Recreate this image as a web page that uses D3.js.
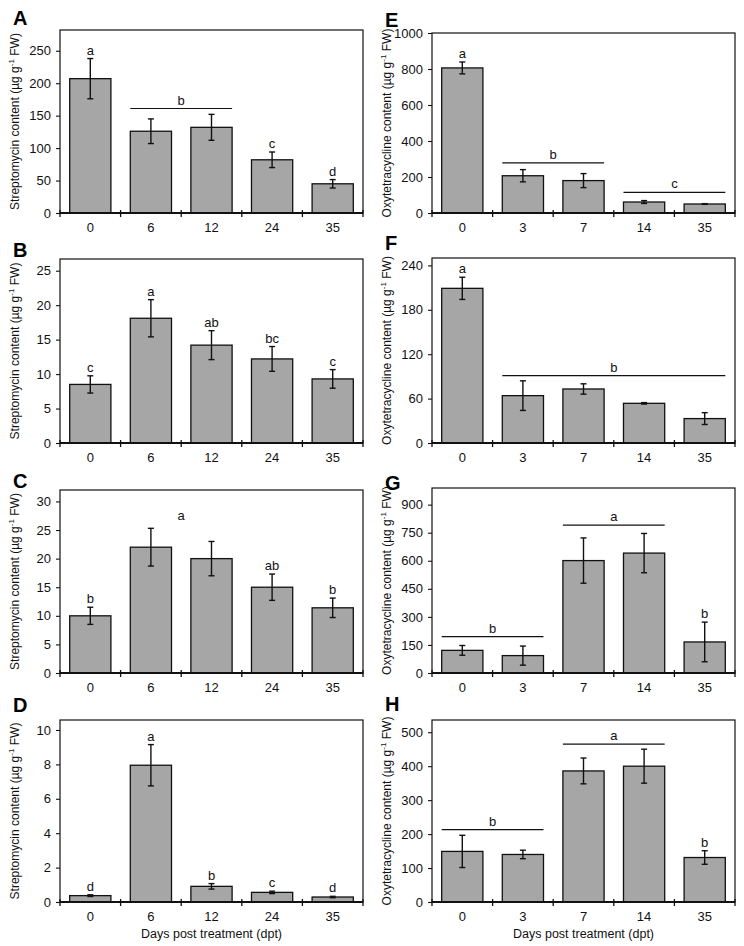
<!DOCTYPE html>
<html><head><meta charset="utf-8">
<script src="https://cdn.jsdelivr.net/npm/d3@7"></script>
<style>
html,body{margin:0;padding:0;background:#fff;}
text{font-family:"Liberation Sans",Arial,Helvetica,sans-serif;}
</style>
</head><body>
<svg id="chart" width="744" height="946"></svg>
<script>
// ---- categories ----
const daysStrep = ["0", "6", "12", "24", "35"];
const daysOxy = ["0", "3", "7", "14", "35"];

// ---- series values (mean, error) ----
const valA = [207, 126, 132, 82, 45];
const errA = [31, 19, 20, 12, 6.5];
const valB = [8.5, 18.1, 14.2, 12.2, 9.3];
const errB = [1.25, 2.7, 2.1, 1.8, 1.35];
const valC = [10.0, 22.0, 20.0, 15.0, 11.4];
const errC = [1.5, 3.3, 3.0, 2.3, 1.7];
const valD = [0.37, 7.95, 0.91, 0.56, 0.29];
const errD = [0.05, 1.2, 0.16, 0.07, 0.04];
const valE = [806, 207, 180, 61, 50];
const errE = [33, 34, 39, 8, 2];
const valF = [209, 64, 73, 53.6, 33];
const errF = [15, 20, 7, 1, 8];
const valG = [121, 93, 601, 641, 166];
const errG = [26, 51, 121, 105, 106];
const valH = [149, 140, 386, 400, 131];
const errH = [47.5, 12.5, 38, 50, 20];

// ---- significance letters: single over bar i, or group over bars from..to at value y ----
const lettersA = [{t:"a",from:0,to:0},{t:"b",from:1,to:2,y:161,line:true},{t:"c",from:3,to:3},{t:"d",from:4,to:4}];
const lettersB = [{t:"c",from:0,to:0},{t:"a",from:1,to:1},{t:"ab",from:2,to:2},{t:"bc",from:3,to:3},{t:"c",from:4,to:4}];
const lettersC = [{t:"b",from:0,to:0},{t:"a",from:1,to:2,y:26.0,line:false},{t:"ab",from:3,to:3},{t:"b",from:4,to:4}];
const lettersD = [{t:"d",from:0,to:0},{t:"a",from:1,to:1},{t:"b",from:2,to:2},{t:"c",from:3,to:3},{t:"d",from:4,to:4}];
const lettersE = [{t:"a",from:0,to:0},{t:"b",from:1,to:2,y:279,line:true},{t:"c",from:3,to:4,y:115,line:true}];
const lettersF = [{t:"a",from:0,to:0},{t:"b",from:1,to:4,y:91,line:true}];
const lettersG = [{t:"b",from:0,to:1,y:194,line:true},{t:"a",from:2,to:3,y:791,line:true},{t:"b",from:4,to:4}];
const lettersH = [{t:"b",from:0,to:1,y:213,line:true},{t:"a",from:2,to:3,y:465,line:true},{t:"b",from:4,to:4}];

// ---- y-axis domains and tick labels ----
const domA = [0, 282], ticksA = [0, 50, 100, 150, 200, 250];
const domB = [0, 26.7], ticksB = [0, 5, 10, 15, 20, 25];
const domC = [0, 32], ticksC = [0, 5, 10, 15, 20, 25, 30];
const domD = [0, 10.58], ticksD = [0, 2, 4, 6, 8, 10];
const domE = [0, 1000], ticksE = [0, 200, 400, 600, 800, 1000];
const domF = [0, 250], ticksF = [0, 60, 120, 180, 240];
const domG = [0, 989], ticksG = [0, 150, 300, 450, 600, 750, 900];
const domH = [0, 536], ticksH = [0, 100, 200, 300, 400, 500];

const titleStrep = "Streptomycin content";
const titleOxy = "Oxytetracycline content";
const xTitle = "Days post treatment (dpt)";

// ---- layout ----
const panels = [
  {id:"A", cats:daysStrep, v:valA, e:errA, L:lettersA, dom:domA, ticks:ticksA, title:titleStrep, col:0, top:30,  bottom:213, lab:25},
  {id:"B", cats:daysStrep, v:valB, e:errB, L:lettersB, dom:domB, ticks:ticksB, title:titleStrep, col:0, top:259, bottom:443, lab:257},
  {id:"C", cats:daysStrep, v:valC, e:errC, L:lettersC, dom:domC, ticks:ticksC, title:titleStrep, col:0, top:490, bottom:673, lab:488},
  {id:"D", cats:daysStrep, v:valD, e:errD, L:lettersD, dom:domD, ticks:ticksD, title:titleStrep, col:0, top:720, bottom:902, lab:712, xt:true},
  {id:"E", cats:daysOxy, v:valE, e:errE, L:lettersE, dom:domE, ticks:ticksE, title:titleOxy, col:1, top:33,  bottom:213, lab:27},
  {id:"F", cats:daysOxy, v:valF, e:errF, L:lettersF, dom:domF, ticks:ticksF, title:titleOxy, col:1, top:258, bottom:443, lab:250},
  {id:"G", cats:daysOxy, v:valG, e:errG, L:lettersG, dom:domG, ticks:ticksG, title:titleOxy, col:1, top:488, bottom:673, lab:490},
  {id:"H", cats:daysOxy, v:valH, e:errH, L:lettersH, dom:domH, ticks:ticksH, title:titleOxy, col:1, top:720, bottom:902, lab:711, xt:true}
];
const cols = [{x0:60, x1:363, letterX:13, titleX:19}, {x0:432, x1:735, letterX:385, titleX:391}];

const svg = d3.select("#chart");

panels.forEach(p => {
  const c = cols[p.col];
  const g = svg.append("g");
  const x = d3.scaleBand().domain(p.cats).range([c.x0, c.x1]).paddingInner(0.32).paddingOuter(0.16);
  const y = d3.scaleLinear().domain(p.dom).range([p.bottom, p.top]);

  // bars
  g.selectAll("rect.bar").data(p.v).join("rect")
    .attr("x", (d,i) => x(p.cats[i]))
    .attr("y", d => y(d))
    .attr("width", x.bandwidth())
    .attr("height", d => y(0) - y(d))
    .attr("fill", "#a6a6a6").attr("stroke", "#111").attr("stroke-width", 1.3);

  // error bars
  const eb = g.selectAll("g.eb").data(p.v).join("g");
  eb.append("line")
    .attr("x1", (d,i) => x(p.cats[i]) + x.bandwidth()/2)
    .attr("x2", (d,i) => x(p.cats[i]) + x.bandwidth()/2)
    .attr("y1", (d,i) => y(d + p.e[i])).attr("y2", (d,i) => y(d - p.e[i]))
    .attr("stroke", "#111").attr("stroke-width", 1.4);
  [1,-1].forEach(s => {
    eb.append("line")
      .attr("x1", (d,i) => x(p.cats[i]) + x.bandwidth()/2 - 3)
      .attr("x2", (d,i) => x(p.cats[i]) + x.bandwidth()/2 + 3)
      .attr("y1", (d,i) => y(d + s*p.e[i])).attr("y2", (d,i) => y(d + s*p.e[i]))
      .attr("stroke", "#111").attr("stroke-width", 1.4);
  });

  // frame
  g.append("rect").attr("x", c.x0).attr("y", p.top).attr("width", c.x1 - c.x0).attr("height", p.bottom - p.top)
    .attr("fill", "none").attr("stroke", "#111").attr("stroke-width", 1.2);

  // y axis
  const ya = g.append("g").attr("transform", `translate(${c.x0},0)`)
    .call(d3.axisLeft(y).tickValues(p.ticks).tickSize(4).tickPadding(5).tickFormat(d3.format("d")));
  ya.select(".domain").remove();
  ya.selectAll(".tick line").attr("stroke", "#111").attr("stroke-width", 1.1);
  ya.selectAll(".tick text").attr("font-size", 13).attr("fill", "#111")
    .attr("font-family", "Liberation Sans, Arial, sans-serif");

  // x axis: labels at band centers, ticks at boundaries
  const xa = g.append("g").attr("transform", `translate(0,${p.bottom})`)
    .call(d3.axisBottom(x).tickSize(0).tickPadding(10));
  xa.select(".domain").remove();
  xa.selectAll(".tick text").attr("font-size", 13).attr("fill", "#111")
    .attr("font-family", "Liberation Sans, Arial, sans-serif");
  g.append("line").attr("x1", c.x0).attr("x2", c.x1).attr("y1", p.bottom).attr("y2", p.bottom)
    .attr("stroke", "#111").attr("stroke-width", 2);
  const bounds = d3.range(p.cats.length + 1).map(i => c.x0 + i * x.step());
  g.selectAll("line.xt").data(bounds).join("line")
    .attr("x1", d => d).attr("x2", d => d)
    .attr("y1", p.bottom - 3).attr("y2", p.bottom + 4)
    .attr("stroke", "#111").attr("stroke-width", 1.3);

  // significance letters
  p.L.forEach(l => {
    const xl = x(p.cats[l.from]);
    const xr = x(p.cats[l.to]) + x.bandwidth();
    let yy;
    if (l.y === undefined) {
      yy = y(p.v[l.from] + p.e[l.from]) - 4;
    } else {
      yy = y(l.y);
      if (l.line) {
        g.append("line").attr("x1", xl).attr("x2", xr).attr("y1", yy).attr("y2", yy)
          .attr("stroke", "#111").attr("stroke-width", 1.2);
      }
      yy -= 4;
    }
    g.append("text").attr("x", (xl + xr) / 2).attr("y", yy)
      .attr("text-anchor", "middle").attr("font-size", 13).attr("fill", "#111").text(l.t);
  });

  // y title
  const ty = (p.top + p.bottom) / 2;
  const t = g.append("text").attr("transform", `translate(${c.titleX},${ty}) rotate(-90)`)
    .attr("text-anchor", "middle").attr("font-size", 12).attr("fill", "#111");
  t.append("tspan").text(p.title + " (\u00b5g g");
  t.append("tspan").attr("font-size", 8).attr("dy", -5).text("-1");
  t.append("tspan").attr("dy", 5).text(" FW)");

  // panel letter
  g.append("text").attr("x", c.letterX).attr("y", p.lab)
    .attr("font-size", 20).attr("font-weight", "bold").attr("fill", "#000").text(p.id);

  // x title
  if (p.xt) {
    g.append("text").attr("x", (c.x0 + c.x1) / 2).attr("y", 938)
      .attr("text-anchor", "middle").attr("font-size", 12.5).attr("fill", "#111").text(xTitle);
  }
});
</script>
</body></html>
